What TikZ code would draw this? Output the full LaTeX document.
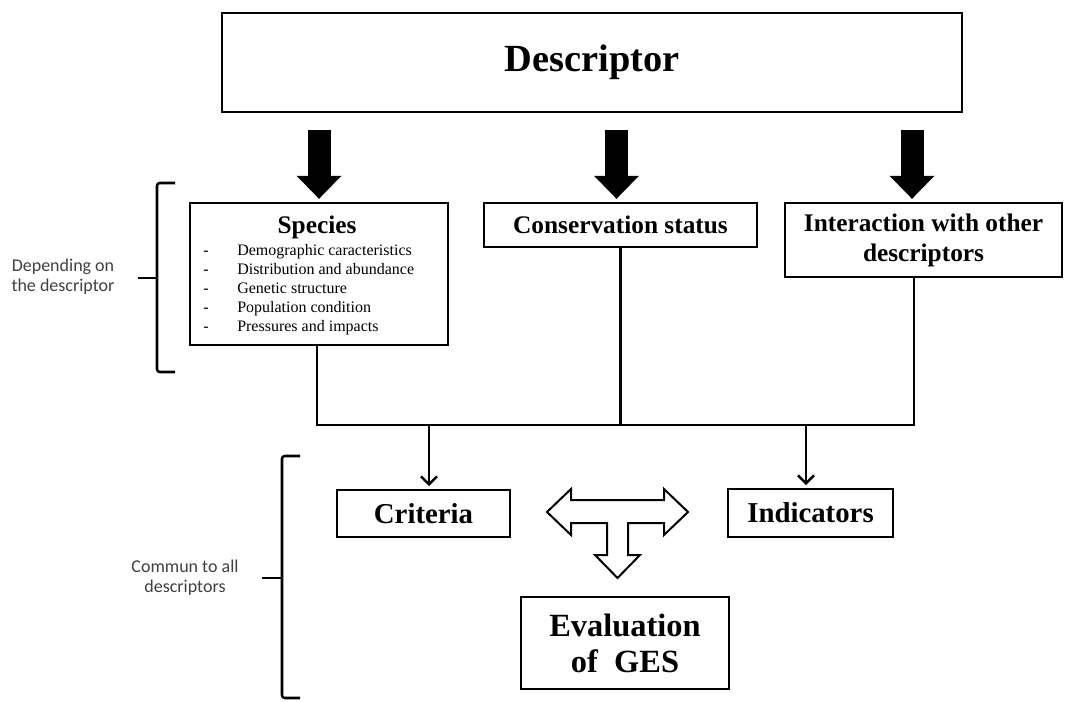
\documentclass[tikz,border=0pt]{standalone}
\usepackage{fontspec}
\setmainfont{Liberation Serif}
\newfontfamily\labelfont{Carlito}
\usetikzlibrary{arrows.meta}
\definecolor{labelgray}{HTML}{404040}
\tikzset{
  box/.style={draw=black, line width=1.8pt, fill=white, inner sep=0pt, align=center, font=\bfseries\fontsize{19}{22.5}\selectfont},
  bigarrow/.style={line width=17.25pt, -{Triangle[width=33.75pt, length=17.25pt, line width=0pt]}, shorten >=2.25pt},
  conn/.style={line width=1.9pt},
  connarrow/.style={line width=1.9pt, -{Straight Barb[length=6pt, width=12pt, line width=1.9pt]}, shorten >=2pt},
  bracestyle/.style={line width=1.9pt, line join=round},
  sidelabel/.style={font=\labelfont\fontsize{13.5}{15}\selectfont, text=labelgray, align=center, inner sep=0pt},
  item/.style={font=\fontsize{12}{14}\selectfont, inner sep=0pt, anchor=base west},
}
\begin{document}
\begin{tikzpicture}[x=0.75pt, y=-0.75pt]
\useasboundingbox (0,0) rectangle (1067,702);

% boxes
\node[box, minimum width=555pt, minimum height=74.25pt, font=\bfseries\fontsize{28.8}{32}\selectfont] (descr) at (592,62.5) {Descriptor};
\node[box, minimum width=193.5pt, minimum height=106.5pt] (species) at (319,274) {};
\node[box, minimum width=204.75pt, minimum height=33pt] (cons) at (620.5,225) {Conservation status};
\node[box, minimum width=207.75pt, minimum height=55.5pt] (inter) at (923.5,240) {Interaction with other\\descriptors};
\node[box, minimum width=129.75pt, minimum height=35.25pt, font=\bfseries\fontsize{21.6}{24}\selectfont] (crit) at (423.5,513.5) {Criteria};
\node[box, minimum width=123.75pt, minimum height=36pt, font=\bfseries\fontsize{21.6}{24}\selectfont] (indic) at (810.5,513) {Indicators};
\node[box, minimum width=156pt, minimum height=69pt, font=\bfseries\fontsize{24.3}{27}\selectfont] (evalges) at (625,643) {Evaluation\\of~~GES};

% species content
\node[font=\bfseries\fontsize{19}{22}\selectfont, inner sep=0pt] (sptitle) at (317,227) {Species};
\foreach \t [count=\i] in {Demographic caracteristics, Distribution and abundance, Genetic structure, Population condition, Pressures and impacts}{
  \node[item] (dash\i) at (203,{252+(\i-1)*18.75+4}) {-};
  \node[item] (it\i) at (237,{252+(\i-1)*18.75+4}) {\t};
}

% big black arrows
\coordinate (a1) at (319,130);
\coordinate (a2) at (616.5,130);
\coordinate (a3) at (912,130);
\draw[bigarrow] (a1) -- (a1 |- species.north);
\draw[bigarrow] (a2) -- (a2 |- cons.north);
\draw[bigarrow] (a3) -- (a3 |- inter.north);

% connectors
\coordinate (jl) at (317,425);
\coordinate (jr) at (914,425);
\coordinate (jc) at (620.5,425);
\coordinate (ca) at (429,425);
\coordinate (ia) at (806,425);
\draw[conn] (jl |- species.south) -- (jl) -- (jr) -- (jr |- inter.south);
\draw[conn] (cons.south) -- (jc);
\draw[connarrow] (ca) -- (ca |- crit.north);
\draw[connarrow] (ia) -- (ia |- indic.north);

% T-shaped hollow arrow
\draw[line width=1.5pt, line join=miter, fill=white]
  (547,512) -- (571,489) -- (571,500) -- (664,500) -- (664,489) -- (688,512)
  -- (664,535) -- (664,523) -- (628,523) -- (628,555) -- (640,555) -- (617.5,578)
  -- (595,555) -- (607,555) -- (607,523) -- (571,523) -- (571,535) -- cycle;

% braces
\draw[bracestyle, rounded corners=2pt] (175,183) -- (157,183) -- (157,372) -- (175,372);
\draw[bracestyle] (138,278) -- (157,278);
\draw[bracestyle, rounded corners=2pt] (300,456) -- (282,456) -- (282,698) -- (300,698);
\draw[bracestyle] (262,578) -- (282,578);

% side labels
\node[sidelabel] (lab1) at (63,277) {Depending on\\the descriptor};
\node[sidelabel] (lab2) at (185,578) {Commun to all\\descriptors};
\end{tikzpicture}
\end{document}
